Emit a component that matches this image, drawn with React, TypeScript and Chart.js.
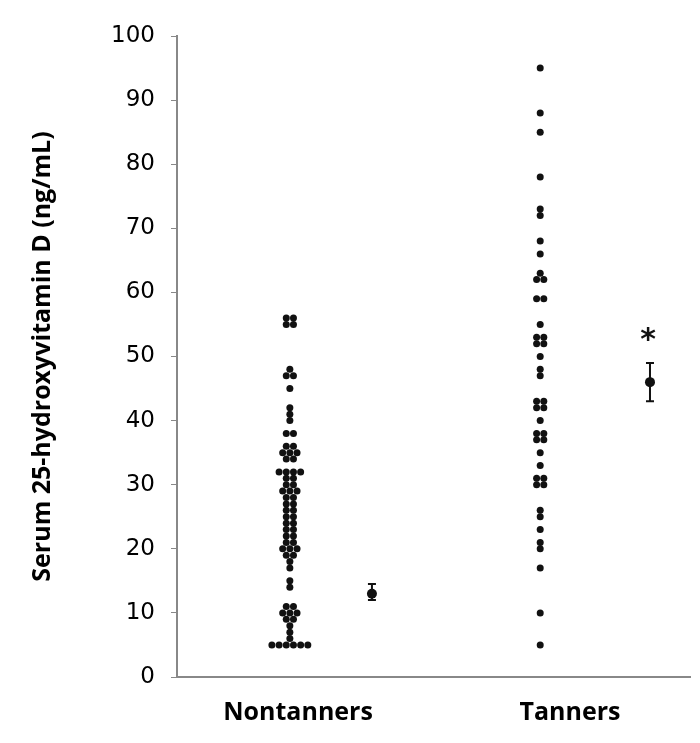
import React, { useEffect, useRef } from "react";
import { Chart, registerables } from "chart.js";

Chart.register(...registerables);

const groupNames = ["Nontanners", "Tanners"];

const nontanners = [
  56, 56, 55, 55,
  48, 47, 47, 45,
  42, 41, 40,
  38, 38,
  36, 36, 35, 35, 35, 34, 34,
  32, 32, 32, 32,
  31, 31, 30, 30, 29, 29, 29, 28, 28, 27, 27, 26, 26, 25, 25, 24, 24, 23, 23, 22, 22, 21, 21, 20, 20, 20, 19, 19,
  18, 17, 15, 14,
  11, 11, 10, 10, 10, 9, 9, 8, 7, 6,
  5, 5, 5, 5, 5, 5,
];

const tanners = [
  95, 88, 85, 78, 73, 72, 68, 66, 63, 62, 62, 59, 59, 55, 53, 53, 52, 52, 50,
  48, 47, 43, 43, 42, 42, 40, 38, 38, 37, 37, 35, 33, 31, 31, 30, 30,
  26, 25, 23, 21, 20, 17, 10, 5,
];

const means = [13, 46];
const errLow = [12, 43];
const errHigh = [14.5, 49];
const significance = ["", "*"];
const yTicks = [0, 10, 20, 30, 40, 50, 60, 70, 80, 90, 100];

// layout positions on the hidden linear x scale (0..100)
const GROUP_X = [22, 70.8];
const MEAN_X = [38, 92.2];
const LABEL_X = [23.6, 76.6];
const SWARM_STEP = 1.4;

function swarm(values: number[], cx: number) {
  const counts: Record<number, number> = {};
  values.forEach((v) => (counts[v] = (counts[v] || 0) + 1));
  const seen: Record<number, number> = {};
  return values.map((v) => {
    const n = counts[v];
    const i = seen[v] || 0;
    seen[v] = i + 1;
    return { x: cx + (i - (n - 1) / 2) * SWARM_STEP, y: v };
  });
}

const errorBarPlugin = {
  id: "errorBars",
  afterDatasetsDraw(chart: any) {
    const { ctx, scales } = chart;
    const xs = scales.x;
    const ys = scales.y;
    ctx.save();
    ctx.strokeStyle = "#111";
    ctx.lineWidth = 2;
    means.forEach((m, i) => {
      const px = xs.getPixelForValue(MEAN_X[i]);
      const lo = ys.getPixelForValue(errLow[i]);
      const hi = ys.getPixelForValue(errHigh[i]);
      ctx.beginPath();
      ctx.moveTo(px, lo);
      ctx.lineTo(px, hi);
      ctx.moveTo(px - 4, lo);
      ctx.lineTo(px + 4, lo);
      ctx.moveTo(px - 4, hi);
      ctx.lineTo(px + 4, hi);
      ctx.stroke();
      if (significance[i]) {
        ctx.fillStyle = "#111";
        ctx.font = "bold 30px 'DejaVu Sans'";
        ctx.textAlign = "center";
        ctx.textBaseline = "middle";
        ctx.fillText(significance[i], px - 2, ys.getPixelForValue(errHigh[i]) - 22);
      }
    });
    ctx.restore();
  },
};

export default function App() {
  const ref = useRef<HTMLCanvasElement>(null);
  useEffect(() => {
    if (!ref.current) return;
    const chart = new Chart(ref.current, {
      type: "scatter",
      data: {
        datasets: [
          {
            label: groupNames[0],
            data: swarm(nontanners, GROUP_X[0]),
            backgroundColor: "#111",
            borderColor: "#111",
            pointRadius: 3.5,
            pointBorderWidth: 0,
          },
          {
            label: groupNames[1],
            data: swarm(tanners, GROUP_X[1]),
            backgroundColor: "#111",
            borderColor: "#111",
            pointRadius: 3.5,
            pointBorderWidth: 0,
          },
          {
            label: "Mean",
            data: means.map((m, i) => ({ x: MEAN_X[i], y: m })),
            backgroundColor: "#111",
            borderColor: "#111",
            pointRadius: 5,
            pointBorderWidth: 0,
          },
        ],
      },
      options: {
        animation: false,
        responsive: true,
        maintainAspectRatio: false,
        layout: { padding: { left: 0, right: 10, top: 36, bottom: 0 } },
        plugins: { legend: { display: false }, tooltip: { enabled: false } },
        scales: {
          x: {
            type: "linear",
            min: 0,
            max: 100,
            afterBuildTicks: (s: any) => {
              s.ticks = LABEL_X.map((v) => ({ value: v }));
            },
            afterFit: (s: any) => {
              s.height = 66;
            },
            ticks: {
              autoSkip: false,
              maxRotation: 0,
              color: "#000",
              padding: 21,
              font: { family: "'Open Sans'", size: 25, weight: "bold" },
              callback: (v: any) => groupNames[LABEL_X.indexOf(Number(v))] ?? "",
            },
            grid: { display: true, drawOnChartArea: false, drawTicks: false, color: "#888" },
            border: { display: true, color: "#888", width: 2 },
          },
          y: {
            min: 0,
            max: 100,
            afterBuildTicks: (s: any) => {
              s.ticks = yTicks.map((v) => ({ value: v }));
            },
            afterFit: (s: any) => {
              s.width = 177;
            },
            ticks: {
              color: "#000",
              padding: 16,
              font: { family: "'DejaVu Sans'", size: 23 },
            },
            grid: { display: true, drawOnChartArea: false, drawTicks: true, tickLength: 6, color: "#888" },
            border: { display: true, color: "#888", width: 2 },
            title: {
              display: true,
              text: "Serum 25-hydroxyvitamin D (ng/mL)",
              color: "#000",
              font: { family: "'Open Sans'", size: 25, weight: "bold" },
              padding: { top: 28, bottom: 0 },
            },
          },
        },
      },
      plugins: [errorBarPlugin],
    });
    return () => chart.destroy();
  }, []);
  return (
    <div style={{ position: "fixed", left: 0, top: 0, width: 700, height: 743, background: "#fff" }}>
      <canvas ref={ref} />
    </div>
  );
}
